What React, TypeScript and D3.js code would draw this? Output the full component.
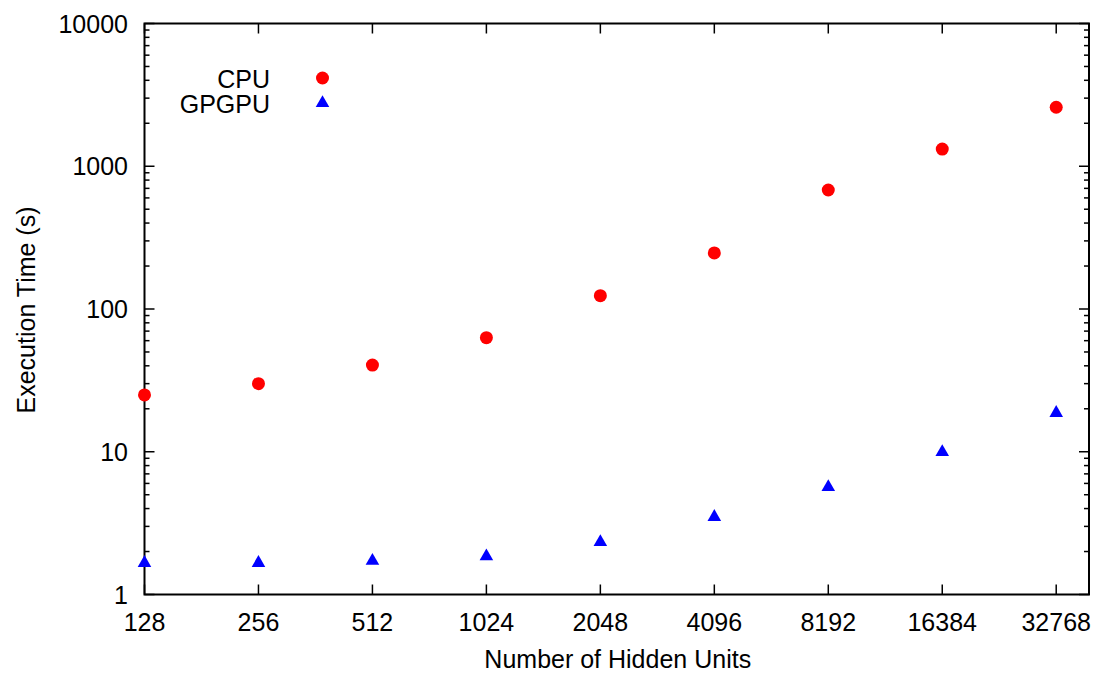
import React from "react";
import * as d3 from "d3";

const hiddenUnits = [128, 256, 512, 1024, 2048, 4096, 8192, 16384, 32768];
const cpuTimes = [25, 30, 40.5, 63, 124, 247, 682, 1320, 2590];
const gpgpuTimes = [1.69, 1.69, 1.75, 1.88, 2.37, 3.55, 5.75, 10.1, 19.0];
const yTickValues = [1, 10, 100, 1000, 10000];
const xTickLabels = ["128", "256", "512", "1024", "2048", "4096", "8192", "16384", "32768"];
const seriesNames = ["CPU", "GPGPU"];

const W = 1102;
const H = 678;
const M = { left: 144.5, right: 1089, top: 23.5, bottom: 594.5 };
const FONT = "'Liberation Sans', Arial, Helvetica, sans-serif";
const FS = 25;

export default function App() {
  const x = d3.scaleLog().base(2).domain([128, 40000]).range([M.left, M.right]);
  const y = d3.scaleLog().domain([1, 10000]).range([M.bottom, M.top]);

  const minorY: number[] = [];
  for (let dec = 1; dec < 10000; dec *= 10) {
    for (let k = 2; k <= 9; k++) minorY.push(dec * k);
  }

  const triangle = d3.symbol().type(d3.symbolTriangle).size(80)();

  return (
    <svg width={W} height={H} style={{ position: "absolute", left: 0, top: 0, background: "#fff" }} fontFamily={FONT}>
      <rect x={0} y={0} width={W} height={H} fill="#fff" />
      {/* y ticks */}
      {yTickValues.map((v) => (
        <g key={"yt" + v}>
          <line x1={M.left} x2={M.left + 10} y1={y(v)} y2={y(v)} stroke="#000" strokeWidth={1.5} />
          <line x1={M.right} x2={M.right - 10} y1={y(v)} y2={y(v)} stroke="#000" strokeWidth={1.5} />
          <text x={128} y={y(v)} dy="0.36em" textAnchor="end" fontSize={FS}>{v}</text>
        </g>
      ))}
      {minorY.map((v) => (
        <g key={"ym" + v}>
          <line x1={M.left} x2={M.left + 5} y1={y(v)} y2={y(v)} stroke="#000" strokeWidth={1.5} />
          <line x1={M.right} x2={M.right - 5} y1={y(v)} y2={y(v)} stroke="#000" strokeWidth={1.5} />
        </g>
      ))}
      {/* x ticks */}
      {hiddenUnits.map((v, i) => (
        <g key={"xt" + v}>
          <line x1={x(v)} x2={x(v)} y1={M.bottom} y2={M.bottom - 10} stroke="#000" strokeWidth={1.5} />
          <line x1={x(v)} x2={x(v)} y1={M.top} y2={M.top + 10} stroke="#000" strokeWidth={1.5} />
          <text x={x(v)} y={631} textAnchor="middle" fontSize={FS}>{xTickLabels[i]}</text>
        </g>
      ))}
      {/* frame */}
      <rect x={M.left} y={M.top} width={M.right - M.left} height={M.bottom - M.top} fill="none" stroke="#000" strokeWidth={2} />
      {/* data */}
      {hiddenUnits.map((v, i) => (
        <circle key={"c" + v} cx={x(v)} cy={y(cpuTimes[i])} r={6.5} fill="#ff0000" />
      ))}
      {hiddenUnits.map((v, i) => (
        <path key={"t" + v} d={triangle!} transform={`translate(${x(v)},${y(gpgpuTimes[i]) + 1})`} fill="#0000ff" />
      ))}
      {/* legend */}
      <text x={270} y={88} textAnchor="end" fontSize={FS}>{seriesNames[0]}</text>
      <circle cx={322.5} cy={78} r={6.5} fill="#ff0000" />
      <text x={270} y={113} textAnchor="end" fontSize={FS}>{seriesNames[1]}</text>
      <path d={triangle!} transform={`translate(322.5,${103})`} fill="#0000ff" />
      {/* axis titles */}
      <text x={(M.left + M.right) / 2 + 1} y={668} textAnchor="middle" fontSize={FS}>Number of Hidden Units</text>
      <text transform={`translate(35,${(M.top + M.bottom) / 2 + 1}) rotate(-90)`} textAnchor="middle" fontSize={FS}>Execution Time (s)</text>
    </svg>
  );
}
